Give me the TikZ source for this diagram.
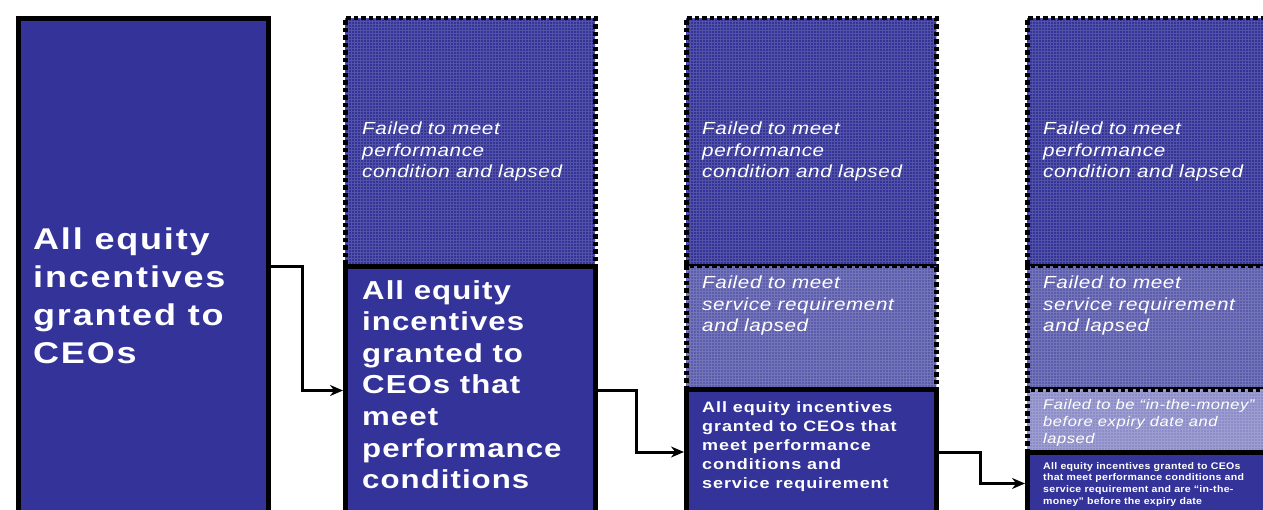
\documentclass[tikz,border=0pt]{standalone}
\usepackage{fontspec}
\setmainfont{Liberation Sans}
\tikzset{>=stealth}
\usetikzlibrary{patterns,arrows.meta}
\colorlet{boxBlue}{rgb,255:red,51;green,51;blue,153}
\colorlet{hatchDark}{rgb,255:red,52;green,52;blue,152}
\colorlet{hatchMid}{rgb,255:red,92;green,92;blue,172}
\colorlet{hatchLight}{rgb,255:red,140;green,140;blue,200}
% broad glyphs with a little extra tracking
\newcommand{\wide}[2]{\addfontfeatures{FakeStretch=#1,LetterSpace=#2}}
\tikzset{
  solidbox/.style={draw=black,line width=5pt,fill=boxBlue,inner sep=0pt,
    anchor=north west,minimum width=#1},
  lapsedbox/.style={draw=black,line width=4.5pt,dash pattern=on 4.5pt off 3pt,
    inner sep=0pt,anchor=north west,minimum width=250pt,
    preaction={fill=#1},pattern=grid,pattern color=white!15!#1},
  boldtxt/.style={text=white,anchor=north west,inner sep=0pt,align=left},
  italtxt/.style={text=white,anchor=north west,inner sep=0pt,align=left},
  lapsetxt/.style={font=\itshape\fontsize{17.5}{21.5}\selectfont\wide{1.18}{3.5}},
  flow/.style={-{Stealth[length=13pt,width=11pt]},line width=3pt,black},
}
\begin{document}
\begin{tikzpicture}[x=1pt,y=-1pt]
  \useasboundingbox (0,0) rectangle (1263,510);
  % first column: everything granted
  \node[solidbox=250pt,minimum height=496pt] (all) at (16,16) {};
  \node[boldtxt,font=\bfseries\fontsize{30}{38}\selectfont\wide{1.2}{6}] (allTxt) at (33,228) {All equity\\incentives\\granted to\\CEOs};
  % second column
  \node[lapsedbox=hatchDark,minimum height=248pt] (perfLapse) at (343,16) {};
  \node[solidbox=250pt,minimum height=248pt] (perfMeet) at (343,264) {};
  \node[italtxt,lapsetxt] (perfLapseTxt) at (362,122) {Failed to meet\\performance\\condition and lapsed};
  \node[boldtxt,font=\bfseries\fontsize{26}{31.6}\selectfont\wide{1.2}{4}] (perfMeetTxt) at (362,280) {All equity\\incentives\\granted to\\CEOs that\\meet\\performance\\conditions};
  % third column
  \node[lapsedbox=hatchDark,minimum height=248pt] (perfLapseB) at (684,16) {};
  \node[lapsedbox=hatchMid,minimum height=123pt] (servLapse) at (684,264) {};
  \node[solidbox=250pt,minimum height=125pt] (servMeet) at (684,387) {};
  \node[italtxt,lapsetxt] (perfLapseBTxt) at (702,122) {Failed to meet\\performance\\condition and lapsed};
  \node[italtxt,lapsetxt] (servLapseTxt) at (702,276) {Failed to meet\\service requirement\\and lapsed};
  \node[boldtxt,font=\bfseries\fontsize{15}{19}\selectfont\wide{1.2}{6}] (servMeetTxt) at (702,401) {All equity incentives\\granted to CEOs that\\meet performance\\conditions and\\service requirement};
  % fourth column
  \node[lapsedbox=hatchDark,minimum height=248pt] (perfLapseC) at (1025,16) {};
  \node[lapsedbox=hatchMid,minimum height=123pt] (servLapseB) at (1025,264) {};
  \node[lapsedbox=hatchLight,minimum height=63pt] (moneyLapse) at (1025,387) {};
  \node[solidbox=250pt,minimum height=62pt] (moneyMeet) at (1025,450) {};
  \node[italtxt,lapsetxt] (perfLapseCTxt) at (1043,122) {Failed to meet\\performance\\condition and lapsed};
  \node[italtxt,lapsetxt] (servLapseBTxt) at (1043,276) {Failed to meet\\service requirement\\and lapsed};
  \node[italtxt,font=\itshape\fontsize{14}{17}\selectfont\wide{1.18}{4}] (moneyLapseTxt) at (1043,399) {Failed to be “in-the-money”\\before expiry date and\\lapsed};
  \node[boldtxt,font=\bfseries\fontsize{9.6}{11.8}\selectfont\wide{1.1}{3}] (moneyMeetTxt) at (1043,462) {All equity incentives granted to CEOs\\that meet performance conditions and\\service requirement and are “in-the-\\money” before the expiry date};
  % connectors
  \draw[flow] (all.east) -- ++(31,0) |- (perfMeet.west);
  \draw[flow] (perfMeet.east) -- ++(38,0) |- (servMeet.west);
  \draw[flow] (servMeet.east) -- ++(41,0) |- (moneyMeet.west);
\end{tikzpicture}
\end{document}
